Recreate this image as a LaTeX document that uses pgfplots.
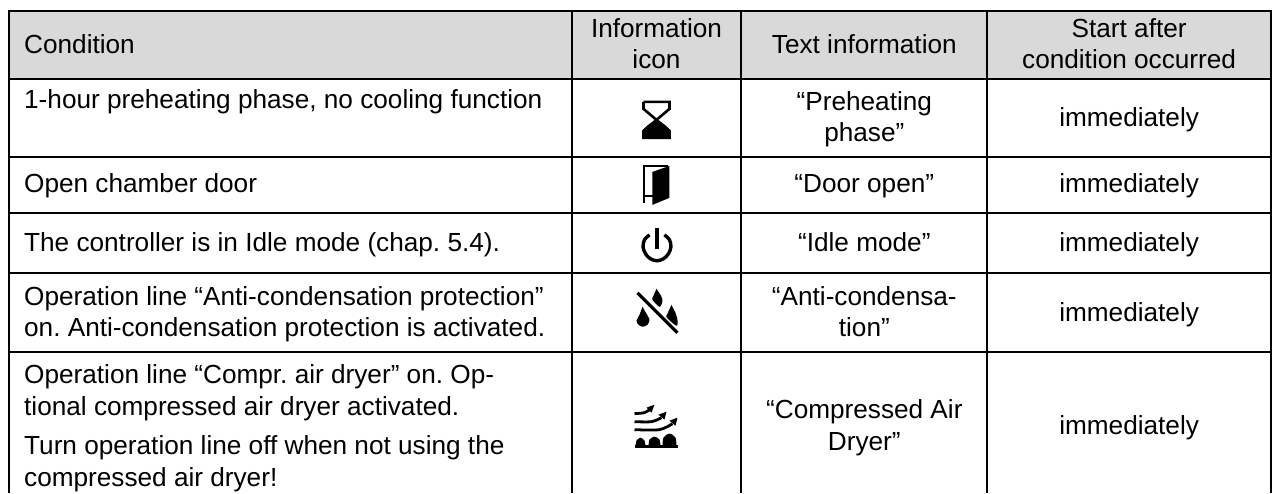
\documentclass[border=0pt]{standalone}
\usepackage{pgfplots}
\usepackage{fontspec}
\setmainfont{Liberation Sans}
\pgfplotsset{compat=1.18}
\newcommand{\cell}[3]{\node[anchor=base west,inner sep=0pt] at (axis cs:#1,#2) {#3};}
\newcommand{\ctr}[3]{\node[anchor=base,inner sep=0pt] at (axis cs:#1,#2) {#3};}
\begin{document}
\frenchspacing
\begin{tikzpicture}
\begin{axis}[
  scale only axis, width=1273pt, height=493pt,
  xmin=0, xmax=1273, ymin=0, ymax=493, y dir=reverse,
  hide axis, clip=false,
  font=\fontsize{26.2}{31}\selectfont
]
% page extent
\addplot[fill=white,draw=none] coordinates {(0,0)(1273,0)(1273,493)(0,493)} -- cycle;
% header band
\addplot[fill=black!15,draw=none] coordinates {(9,11)(1272,11)(1272,79)(9,79)} -- cycle;
% rules
\addplot[black,line width=2pt] coordinates {(8,11)(1273,11)};
\addplot[black,line width=2pt] coordinates {(8,79)(1273,79)};
\addplot[black,line width=2pt] coordinates {(8,157)(1273,157)};
\addplot[black,line width=2pt] coordinates {(8,213)(1273,213)};
\addplot[black,line width=2pt] coordinates {(8,273)(1273,273)};
\addplot[black,line width=2pt] coordinates {(8,352)(1273,352)};
\addplot[black,line width=2pt] coordinates {(9,11)(9,493)};
\addplot[black,line width=2pt] coordinates {(572,11)(572,493)};
\addplot[black,line width=2pt] coordinates {(742,11)(742,493)};
\addplot[black,line width=2pt] coordinates {(988,11)(988,493)};
\addplot[black,line width=2pt] coordinates {(1272,11)(1272,493)};
% hourglass
\addplot[fill=black,draw=none,smooth] coordinates {(643,138)(644,130)(650,124)(657,121)(664,124)(670,130)(671,138)} -- cycle;
\addplot[black,line width=2.6pt] coordinates {(644,102)(670,102)(670,109)(644,131)(644,138)(670,138)(670,131)(644,109)(644,102)};
% door
\addplot[black,line width=2pt] coordinates {(644,203)(644,166)(669,166)};
\addplot[black,line width=2pt] coordinates {(644,196)(654,196)};
\addplot[fill=black,draw=none] coordinates {(653,205)(653,172)(670,166)(670,198)} -- cycle;
% power
\addplot[black,line width=3.4pt,smooth] coordinates {(650,235)(645,240)(643.5,247)(646,254)(651,259)(657.5,261)(664,259)(669,254)(671.5,247)(670,240)(665,235)};
\addplot[black,line width=3.4pt] coordinates {(657.5,228)(657.5,249)};
% no water
\addplot[fill=black,draw=none,smooth] coordinates {(643,307)(640,315)(637,321)(639,325)(643,327)(648,325)(650,320)(647,314)} -- cycle;
\addplot[fill=black,draw=none,smooth] coordinates {(657,289)(654,296)(653,300)(660,307)(663,301)(661,295)} -- cycle;
\addplot[fill=black,draw=none,smooth] coordinates {(672,305)(668,314)(667,318)(677,326)(678,320)(676,313)} -- cycle;
\addplot[white,line width=6pt] coordinates {(638,293)(678,333)};
\addplot[black,line width=3.2pt] coordinates {(638,293)(678,333)};
% dryer
\addplot[black,line width=2.8pt,smooth] coordinates {(635,414)(645,413)(650,410)};
\addplot[black,line width=2.8pt,smooth] coordinates {(635,422)(652,422)(662,418)};
\addplot[black,line width=2.8pt,smooth] coordinates {(635,430)(660,430)(673,424)};
\addplot[fill=black,draw=none] coordinates {(647,408)(655,405)(652,413)} -- cycle;
\addplot[fill=black,draw=none] coordinates {(659,415)(667,412)(665,420)} -- cycle;
\addplot[fill=black,draw=none] coordinates {(670,421)(678,418)(676,426)} -- cycle;
\addplot[fill=black,draw=none,smooth] coordinates {(636,447)(637,441)(641,438)(645,441)(646,447)} -- cycle;
\addplot[fill=black,draw=none,smooth] coordinates {(649,447)(650,440)(655,437)(660,440)(661,447)} -- cycle;
\addplot[fill=black,draw=none,smooth] coordinates {(663,447)(664,438)(670,434)(676,438)(677,447)} -- cycle;
\addplot[black,line width=2.4pt] coordinates {(635,447)(679,447)};
% text
\cell{24}{54}{Condition}
\ctr{657}{38}{Information}
\ctr{657}{69}{icon}
\ctr{865}{54}{Text information}
\ctr{1130}{38}{Start after}
\ctr{1130}{69}{condition occurred}
\cell{24}{109}{1-hour preheating phase, no cooling function}
\ctr{865}{111}{“Preheating}
\ctr{865}{142}{phase”}
\ctr{1130}{127}{immediately}
\cell{24}{193}{Open chamber door}
\ctr{865}{193}{“Door open”}
\ctr{1130}{193}{immediately}
\cell{24}{252}{The controller is in Idle mode (chap. 5.4).}
\ctr{865}{252}{“Idle mode”}
\ctr{1130}{252}{immediately}
\cell{24}{306}{Operation line “Anti-condensation protection”}
\cell{24}{337}{on. Anti-condensation protection is activated.}
\ctr{865}{306}{“Anti-condensa-}
\ctr{865}{337}{tion”}
\ctr{1130}{322}{immediately}
\cell{24}{384}{Operation line “Compr. air dryer” on. Op-}
\cell{24}{416}{tional compressed air dryer activated.}
\cell{24}{455}{Turn operation line off when not using the}
\cell{24}{487}{compressed air dryer!}
\ctr{865}{419}{“Compressed Air}
\ctr{865}{451}{Dryer”}
\ctr{1130}{435}{immediately}
\end{axis}
\end{tikzpicture}
\end{document}
